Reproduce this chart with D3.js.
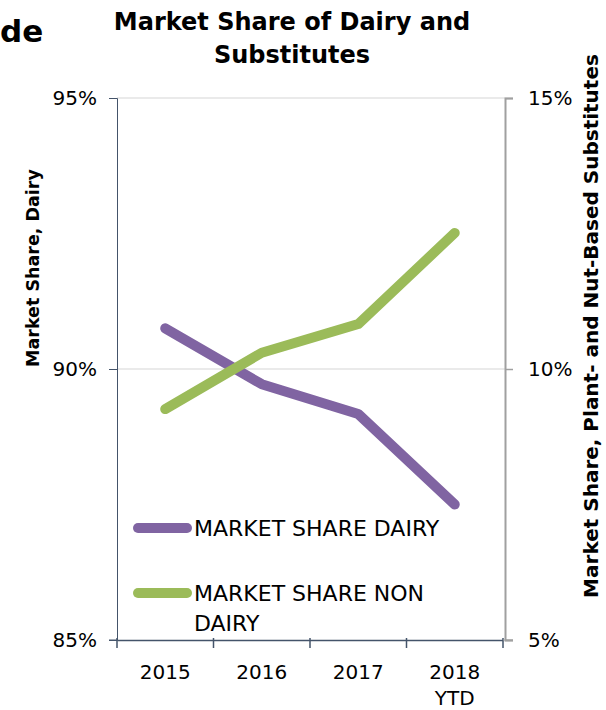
<!DOCTYPE html>
<html>
<head>
<meta charset="utf-8">
<script src="https://cdn.jsdelivr.net/npm/d3@7"></script>
<style>
  html, body { margin: 0; padding: 0; background: #fff; }
  svg { display: block; }
  text { font-family: "DejaVu Sans", "Noto Sans", sans-serif; }
</style>
</head>
<body>
<svg id="chart" width="606" height="710"></svg>
<script>
// Years on the category axis (multi-line labels split on "\n")
const years = ["2015", "2016", "2017", "2018\nYTD"];
// Dairy share, left axis (%)
const dairyShare = [90.75, 89.72, 89.17, 87.5];
// Plant- and nut-based substitutes share, right axis (%)
const nonDairyShare = [9.26, 10.3, 10.83, 12.51];
const leftTicks = [85, 90, 95];
const rightTicks = [5, 10, 15];

const svg = d3.select("#chart");
const m = { left: 117, right: 505, top: 98, bottom: 640 };

const x = d3.scaleBand().domain(years).range([m.left, 503]).padding(0);
const yL = d3.scaleLinear().domain([85, 95]).range([m.bottom, m.top]);
const yR = d3.scaleLinear().domain([5, 15]).range([m.bottom, m.top]);

// Heading text from the surrounding slide, clipped at the left edge
svg.append("text").attr("x", 0).attr("y", 42)
  .attr("font-size", 31).attr("font-weight", "bold").attr("fill", "#000").text("de");

// Title
const title = svg.append("text").attr("text-anchor", "middle")
  .attr("font-size", 24).attr("font-weight", "bold").attr("fill", "#000");
title.append("tspan").attr("x", 292).attr("y", 30).text("Market Share of Dairy and");
title.append("tspan").attr("x", 292).attr("y", 63).text("Substitutes");

// Horizontal gridlines
svg.append("g").selectAll("line").data(leftTicks.filter(d => d > 85)).join("line")
  .attr("x1", m.left).attr("x2", m.right)
  .attr("y1", d => yL(d)).attr("y2", d => yL(d))
  .attr("stroke", "#e3e3e3").attr("stroke-width", 1.5);

// Left axis
const gL = svg.append("g").attr("transform", `translate(${m.left},0)`)
  .call(d3.axisLeft(yL).tickValues(leftTicks).tickFormat(d => d + "%").tickSize(8).tickPadding(12));
gL.select(".domain").attr("stroke", "#44546a");
gL.selectAll(".tick line").attr("stroke", "#44546a");
gL.selectAll(".tick text").attr("font-size", 20).attr("fill", "#000")
  .style("font-family", "'DejaVu Sans', sans-serif");

// Right axis
const gR = svg.append("g").attr("transform", `translate(${m.right},0)`)
  .call(d3.axisRight(yR).tickValues(rightTicks).tickFormat(d => d + "%").tickSize(8).tickPadding(15));
gR.select(".domain").attr("stroke", "#a0a0a0").attr("stroke-width", 2);
gR.selectAll(".tick line").attr("stroke", "#a0a0a0").attr("stroke-width", 1.5);
gR.selectAll(".tick text").attr("font-size", 20).attr("fill", "#000")
  .style("font-family", "'DejaVu Sans', sans-serif");

// Bottom axis with ticks on category boundaries
const gX = svg.append("g").attr("transform", `translate(0,${m.bottom})`)
  .call(d3.axisBottom(x).tickSize(0).tickFormat(""));
gX.select(".domain").attr("stroke", "#44546a").attr("stroke-width", 1.5);
const bounds = [m.left].concat(years.map(d => x(d) + x.bandwidth()));
svg.append("g").selectAll("line").data(bounds).join("line")
  .attr("x1", d => d).attr("x2", d => d)
  .attr("y1", m.bottom - 2).attr("y2", m.bottom + 8)
  .attr("stroke", "#44546a").attr("stroke-width", 1.5);
svg.append("line").attr("x1", m.left - 8).attr("x2", m.left).attr("y1", m.bottom).attr("y2", m.bottom).attr("stroke", "#44546a");
svg.append("line").attr("x1", 503).attr("x2", m.right + 8).attr("y1", m.bottom).attr("y2", m.bottom).attr("stroke", "#a0a0a0");

const xl = svg.append("g").selectAll("text").data(years).join("text")
  .attr("text-anchor", "middle").attr("font-size", 20).attr("fill", "#000");
xl.each(function (d) {
  const t = d3.select(this);
  d.split("\n").forEach((line, i) => {
    t.append("tspan").attr("x", x(d) + x.bandwidth() / 2).attr("y", 679 + i * 26).text(line);
  });
});

// Axis titles
svg.append("text").attr("transform", "translate(39,268) rotate(-90)")
  .attr("text-anchor", "middle").attr("font-size", 17.5).attr("font-weight", "bold")
  .text("Market Share, Dairy");
svg.append("text").attr("transform", "translate(598,326) rotate(-90)")
  .attr("text-anchor", "middle").attr("font-size", 20).attr("font-weight", "bold")
  .text("Market Share, Plant- and Nut-Based Substitutes");

// Lines
const cx = d => x(d) + x.bandwidth() / 2;
const lineL = d3.line().x((d, i) => cx(years[i])).y(d => yL(d));
const lineR = d3.line().x((d, i) => cx(years[i])).y(d => yR(d));
svg.append("path").datum(dairyShare).attr("d", lineL)
  .attr("fill", "none").attr("stroke", "#8064a2").attr("stroke-width", 10)
  .attr("stroke-linecap", "round").attr("stroke-linejoin", "round");
svg.append("path").datum(nonDairyShare).attr("d", lineR)
  .attr("fill", "none").attr("stroke", "#9bbb59").attr("stroke-width", 10)
  .attr("stroke-linecap", "round").attr("stroke-linejoin", "round");

// Legend
const legend = [
  { color: "#8064a2", lines: ["MARKET SHARE DAIRY"], y: 528 },
  { color: "#9bbb59", lines: ["MARKET SHARE NON", "DAIRY"], y: 593 }
];
const lg = svg.append("g").selectAll("g").data(legend).join("g");
lg.append("line").attr("x1", 138).attr("x2", 187)
  .attr("y1", d => d.y).attr("y2", d => d.y)
  .attr("stroke", d => d.color).attr("stroke-width", 10).attr("stroke-linecap", "round");
lg.append("text").attr("font-size", 22).attr("fill", "#000")
  .each(function (d) {
    const t = d3.select(this);
    d.lines.forEach((line, i) => {
      t.append("tspan").attr("x", 194).attr("y", d.y + 8 + i * 30).text(line);
    });
  });
</script>
</body>
</html>
